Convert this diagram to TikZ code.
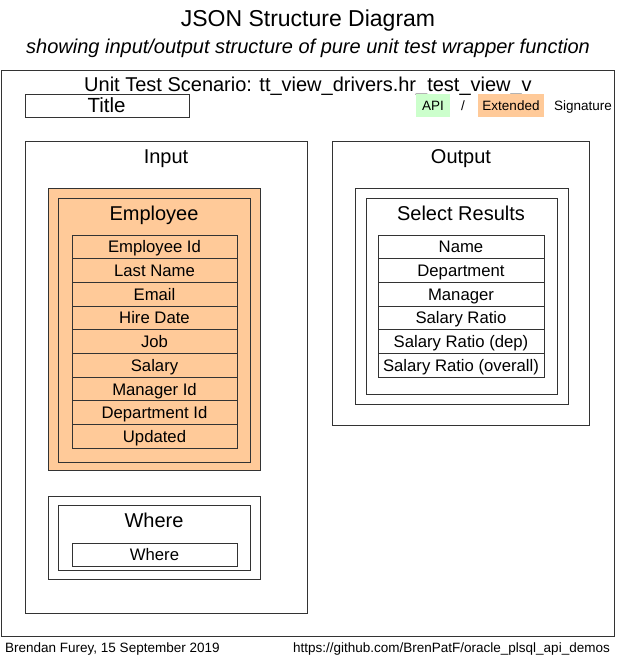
\documentclass[tikz,border=0pt]{standalone}
\usepackage{fontspec}
\setmainfont{Liberation Sans}
\definecolor{ext}{HTML}{FFCA99}
\definecolor{api}{HTML}{CCFFCC}
\definecolor{ln}{HTML}{333333}
\begin{document}
\begin{tikzpicture}[x=1pt,y=-1pt,
  box/.style={draw=ln,line width=0.9pt},
  txt/.style={inner sep=0pt,anchor=center,text depth=0pt},
  hd/.style={txt,text height=14.3pt,font=\fontsize{20}{20}\selectfont},
  lg/.style={txt,text height=9.7pt,font=\fontsize{13.5}{13.5}\selectfont},
  fld/.style={draw=ln,line width=0.9pt,minimum width=165pt,minimum height=23.7pt,inner sep=0pt,text height=12pt,text depth=0pt,font=\fontsize{16.7}{16.7}\selectfont}]
\useasboundingbox (0,0) rectangle (616,658);
\fill[white] (0,0) rectangle (616,658);
\node[txt,text height=16.5pt,font=\fontsize{23}{23}\selectfont] (t1) at (308,18) {JSON Structure Diagram};
\node[txt,text height=14.3pt,font=\fontsize{20}{20}\selectfont\itshape] (t2) at (308,46) {showing input/output structure of pure unit test wrapper function};
\draw[box] (1,70) rectangle (614,636);
\node[hd] (sc) at (308,84) {Unit Test Scenario: tt\_view\_drivers.hr\_test\_view\_v};
\draw[box] (25,94) rectangle (189,117);
\node[txt,text height=14.7pt,font=\fontsize{20.5}{20.5}\selectfont] (ti) at (106.5,105.5) {Title};
\fill[api] (416,94) rectangle (450,117);
\node[lg] (apit) at (433,105.5) {API};
\node[lg] (sl) at (463,105.5) {/};
\fill[ext] (478,94) rectangle (544,117);
\node[lg] (ext) at (511,105.5) {Extended};
\node[lg] (sig) at (583,105.5) {Signature};
% Input
\draw[box] (25,141) rectangle (307,613);
\node[hd] (in) at (166,156) {Input};
\draw[box,fill=ext] (48,188) rectangle (260,470);
\draw[box] (58,198) rectangle (250,462);
\node[hd] (emp) at (154,213) {Employee};
\foreach \t [count=\i from 0] in {Employee Id,Last Name,Email,Hire Date,Job,Salary,Manager Id,Department Id,Updated}{
  \node[fld,fill=ext] (e\i) at (154.5,{246.85+23.7*\i}) {\t};
}
\draw[box] (48,496) rectangle (260,579);
\draw[box] (58,505) rectangle (250,570);
\node[hd] (wh) at (154,520) {Where};
\node[fld,minimum height=23pt] (w0) at (154.5,554.5) {Where};
% Output
\draw[box] (332,141) rectangle (589,425);
\node[hd] (out) at (461,156) {Output};
\draw[box] (355,188) rectangle (568,404);
\draw[box] (366,198) rectangle (557,394);
\node[hd] (sr) at (461,213) {Select Results};
\foreach \t [count=\i from 0] in {Name,Department,Manager,Salary Ratio,Salary Ratio (dep),Salary Ratio (overall)}{
  \node[fld,minimum width=166pt] (o\i) at (461,{246.85+23.7*\i}) {\t};
}
\node[lg,anchor=west] (ft1) at (5,648) {Brendan Furey, 15 September 2019};
\node[lg,anchor=east] (ft2) at (610,648) {https://github.com/BrenPatF/oracle\_plsql\_api\_demos};
\end{tikzpicture}
\end{document}
